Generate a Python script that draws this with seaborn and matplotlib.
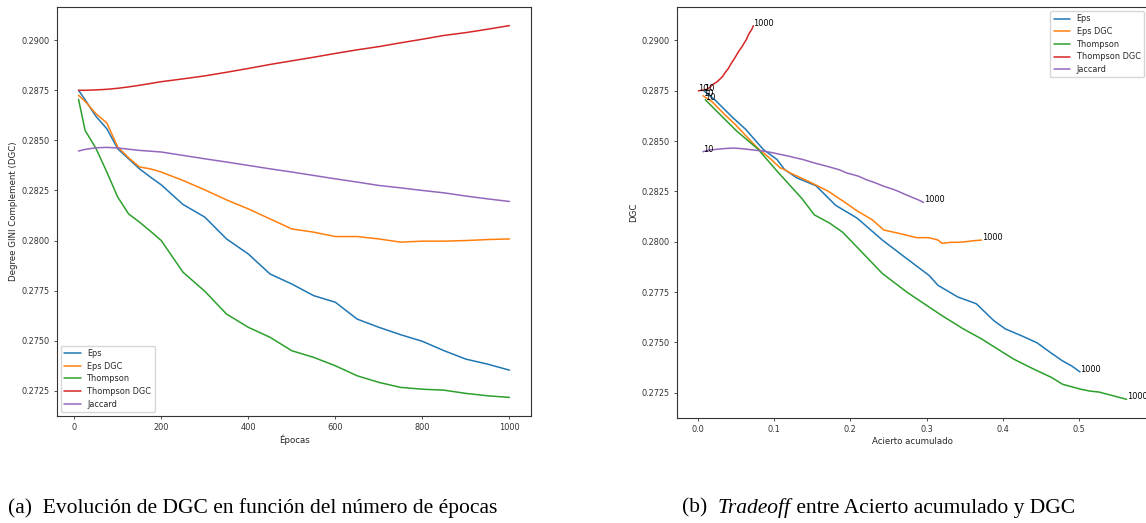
import matplotlib
matplotlib.use("Agg")
import matplotlib.pyplot as plt
import seaborn as sns
import pandas as pd

# ---------------- data ----------------
methods = ["Eps", "Eps DGC", "Thompson", "Thompson DGC", "Jaccard"]
epochs = [10, 25, 50, 75, 100, 125, 150, 175, 200, 250, 300, 350, 400, 450, 500,
          550, 600, 650, 700, 750, 800, 850, 900, 950, 1000]

dgc_eps = [0.28750, 0.28703, 0.28620, 0.28558, 0.28458, 0.28408, 0.28358, 0.28317,
           0.28278, 0.28180, 0.28117, 0.28008, 0.27933, 0.27833, 0.27783, 0.27725,
           0.27692, 0.27608, 0.27567, 0.27530, 0.27497, 0.27450, 0.27408, 0.27383, 0.27353]
dgc_eps_dgc = [0.28725, 0.28695, 0.28633, 0.28587, 0.28467, 0.28413, 0.28367, 0.28358,
               0.28342, 0.28300, 0.28253, 0.28203, 0.28158, 0.28108, 0.28058, 0.28042,
               0.28020, 0.28020, 0.28008, 0.27992, 0.27997, 0.27997, 0.28000, 0.28005, 0.28008]
dgc_thompson = [0.28705, 0.28550, 0.28460, 0.28342, 0.28217, 0.28133, 0.28092, 0.28047,
                0.28000, 0.27842, 0.27747, 0.27633, 0.27567, 0.27517, 0.27450, 0.27417,
                0.27375, 0.27325, 0.27292, 0.27267, 0.27258, 0.27253, 0.27237, 0.27225, 0.27217]
dgc_thompson_dgc = [0.28750, 0.28750, 0.28752, 0.28755, 0.28760, 0.28767, 0.28775, 0.28784,
                    0.28793, 0.28807, 0.28822, 0.28840, 0.28859, 0.28879, 0.28897, 0.28915,
                    0.28934, 0.28952, 0.28968, 0.28987, 0.29005, 0.29024, 0.29038, 0.29055, 0.29073]
dgc_jaccard = [0.28447, 0.28455, 0.28463, 0.28465, 0.28462, 0.28456, 0.28450, 0.28446,
               0.28442, 0.28425, 0.28408, 0.28392, 0.28375, 0.28358, 0.28342, 0.28325,
               0.28308, 0.28292, 0.28275, 0.28263, 0.28250, 0.28238, 0.28222, 0.28208, 0.28195]

acc_eps = [0.008, 0.023, 0.045, 0.063, 0.086, 0.104, 0.114, 0.130, 0.155, 0.181, 0.209,
           0.242, 0.268, 0.303, 0.315, 0.341, 0.365, 0.388, 0.403, 0.426, 0.445, 0.462,
           0.478, 0.490, 0.501]
acc_eps_dgc = [0.007, 0.019, 0.035, 0.048, 0.078, 0.095, 0.108, 0.114, 0.121, 0.145, 0.170,
               0.190, 0.207, 0.229, 0.244, 0.263, 0.287, 0.303, 0.315, 0.320, 0.332, 0.341,
               0.351, 0.362, 0.372]
acc_thompson = [0.010, 0.051, 0.079, 0.106, 0.136, 0.153, 0.173, 0.190, 0.202, 0.242, 0.275,
                0.320, 0.348, 0.372, 0.400, 0.414, 0.436, 0.464, 0.478, 0.502, 0.514, 0.526,
                0.542, 0.554, 0.562]
acc_thompson_dgc = [0.001, 0.002, 0.006, 0.010, 0.014, 0.016, 0.018, 0.021, 0.025, 0.029,
                    0.033, 0.036, 0.040, 0.043, 0.046, 0.049, 0.052, 0.055, 0.058, 0.061,
                    0.064, 0.066, 0.068, 0.071, 0.073]
acc_jaccard = [0.007, 0.015, 0.036, 0.048, 0.058, 0.072, 0.086, 0.092, 0.098, 0.119, 0.138,
               0.152, 0.169, 0.185, 0.195, 0.211, 0.221, 0.233, 0.244, 0.254, 0.263, 0.270,
               0.280, 0.289, 0.296]

caption_a = "(a)  Evolución de DGC en función del número de épocas"
caption_b = ["(b)  ", "Tradeoff", " entre Acierto acumulado y DGC"]

# ---------------- frame ----------------
dgc_all = [dgc_eps, dgc_eps_dgc, dgc_thompson, dgc_thompson_dgc, dgc_jaccard]
acc_all = [acc_eps, acc_eps_dgc, acc_thompson, acc_thompson_dgc, acc_jaccard]
rows = []
for m, d, a in zip(methods, dgc_all, acc_all):
    for e, dv, av in zip(epochs, d, a):
        rows.append({"method": m, "epoch": e, "dgc": dv, "acc": av})
df = pd.DataFrame(rows)

sns.set_style("ticks")
plt.rcParams.update({
    "font.family": ["DejaVu Sans"],
    "xtick.labelsize": 5.9, "ytick.labelsize": 5.9,
    "xtick.major.size": 2.5, "ytick.major.size": 2.5,
    "xtick.major.width": 0.6, "ytick.major.width": 0.6,
    "xtick.major.pad": 2.5, "ytick.major.pad": 2.5,
    "axes.linewidth": 0.8, "axes.labelsize": 6.2,
    "axes.edgecolor": "#333333", "text.color": "#262626",
    "axes.labelcolor": "#262626", "xtick.color": "#333333", "ytick.color": "#333333",
})
palette = sns.color_palette("tab10", 5)

W, H = 1146, 523
fig = plt.figure(figsize=(W / 100, H / 100), dpi=100)
ax1 = fig.add_axes([57 / W, (H - 416) / H, 474 / W, 409 / H])
ax2 = fig.add_axes([677 / W, (H - 418) / H, 471 / W, 411 / H])

sns.lineplot(data=df, x="epoch", y="dgc", hue="method", hue_order=methods,
             palette=palette, estimator=None, sort=False, lw=1.1, ax=ax1)
sns.lineplot(data=df, x="acc", y="dgc", hue="method", hue_order=methods,
             palette=palette, estimator=None, sort=False, lw=1.1, ax=ax2)

ax1.set_xlabel("Épocas", labelpad=2)
ax1.set_ylabel("Degree GINI Complement (DGC)", labelpad=3)
ax2.set_xlabel("Acierto acumulado", labelpad=2)
ax2.set_ylabel("DGC", labelpad=3)

for ax in (ax1, ax2):
    ax.yaxis.set_major_formatter(matplotlib.ticker.FormatStrFormatter("%.4f"))

h, l = ax1.get_legend_handles_labels()
ax1.legend(h, l, loc="lower left", fontsize=5.9, handlelength=2.0,
           borderpad=0.4, labelspacing=0.45)
h, l = ax2.get_legend_handles_labels()
ax2.legend(h, l, loc="upper right", fontsize=5.9, handlelength=2.0,
           borderpad=0.4, labelspacing=0.45)

for d, a in zip(dgc_all, acc_all):
    ax2.text(a[0], d[0], str(epochs[0]), fontsize=5.9, color="black")
    ax2.text(a[-1], d[-1], str(epochs[-1]), fontsize=5.9, color="black")

# captions
cy = 1 - 508 / H
fig.text(8 / W, cy, caption_a, family="Liberation Serif", fontsize=15.5,
         va="center", color="black")
renderer = fig.canvas.get_renderer()
x = 682 / W
for i, part in enumerate(caption_b):
    t = fig.text(x, cy, part, family="Liberation Serif", fontsize=15.5,
                 style="italic" if i == 1 else "normal", va="center", color="black")
    bb = t.get_window_extent(renderer)
    x = bb.x1 / W

fig.savefig("out.png", dpi=100)
